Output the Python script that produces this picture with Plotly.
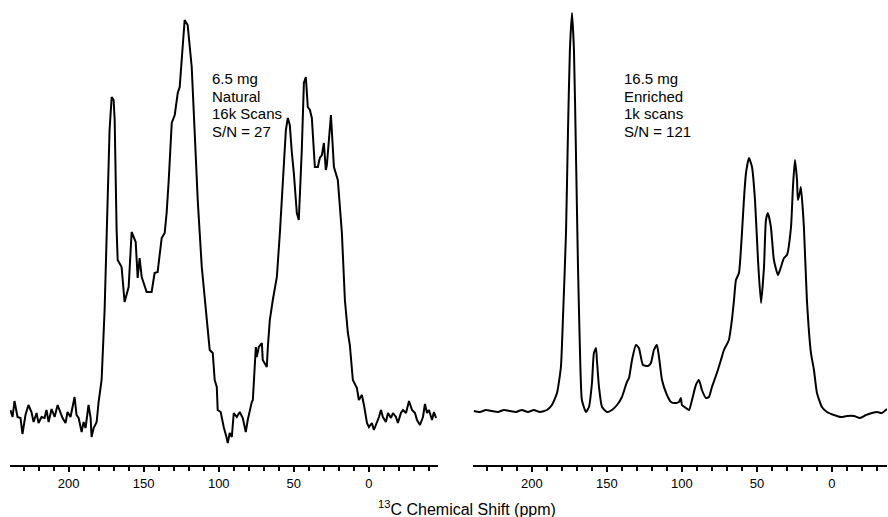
import plotly.graph_objects as go

# ---------- Data ----------
# Left spectrum: 6.5 mg, natural abundance
left_ppm = [238.7, 237.3, 236.0, 234.0, 232.0, 230.7, 228.7, 226.7, 224.7, 223.3,
            221.3, 220.0, 218.0, 216.0, 214.7, 213.3, 211.3, 209.3, 207.3, 205.3,
            204.0, 202.0, 200.7, 198.7, 197.3, 196.0, 194.7, 193.3, 191.3, 190.0,
            188.7, 187.3, 186.7, 185.3, 184.7, 183.3, 181.3, 180.0, 179.3, 178.0,
            176.0, 174.0, 172.7, 171.3, 170.0, 169.3, 168.7, 168.0, 167.3, 166.0,
            164.7, 162.7, 161.3, 160.0, 158.0, 156.7, 155.3, 154.0, 152.7, 151.3,
            148.0, 144.7, 142.7, 140.7, 138.0, 136.0, 134.7, 133.3, 131.3, 129.3,
            127.3, 126.0, 124.0, 122.7, 120.7, 119.3, 118.0, 116.0, 114.0, 111.3,
            109.3, 107.3, 106.0, 104.0, 102.7, 101.3, 100.7, 98.7, 96.7, 94.7,
            94.0, 92.7, 91.3, 90.0, 88.0, 86.0, 84.0, 82.0, 80.7, 78.0,
            77.3, 75.3, 74.7, 73.3, 71.3, 70.7, 68.0, 67.3, 66.0, 64.0,
            61.3, 59.3, 57.3, 55.3, 54.0, 52.7, 51.3, 50.0, 48.0, 46.7,
            44.7, 43.3, 42.0, 40.7, 39.3, 38.0, 36.0, 34.0, 32.7, 31.3,
            30.0, 28.7, 28.0, 25.3, 23.3, 22.0, 20.7, 18.0, 16.0, 14.0,
            12.7, 10.7, 9.3, 8.0, 6.7, 4.7, 3.3, 1.3, 0.0, -2.0,
            -3.3, -5.3, -6.7, -8.0, -9.3, -11.3, -12.7, -14.7, -16.0, -18.0,
            -19.3, -21.3, -22.7, -24.7, -26.7, -28.7, -30.7, -32.0, -34.0, -36.0,
            -37.3, -38.7, -40.0, -42.0, -43.3, -44.7]
left_int = [5, -2, 14, -2, -3, -19, 0, 10, 3, -7,
            2, -8, -2, -3, 5, -7, 6, -2, 10, 2,
            -3, -8, 3, -2, 7, 18, 0, -3, -17, -7,
            -13, 2, 10, -3, -22, -13, -7, 13, 20, 35,
            105, 232, 285, 318, 315, 295, 235, 185, 155, 152,
            148, 113, 120, 128, 183, 179, 173, 137, 157, 138,
            123, 123, 142, 143, 177, 182, 202, 235, 292, 300,
            322, 328, 375, 395, 390, 370, 348, 282, 215, 148,
            115, 82, 65, 62, 35, 28, 5, 3, -12, -23,
            -28, -18, -22, 2, -2, 3, -3, -17, -5, 13,
            15, 68, 58, 68, 72, 55, 48, 68, 95, 115,
            138, 182, 228, 285, 297, 290, 262, 242, 202, 195,
            265, 332, 338, 308, 305, 297, 248, 248, 257, 260,
            272, 245, 250, 300, 248, 240, 235, 182, 115, 82,
            70, 35, 30, 27, 15, 20, 10, -8, -12, -8,
            -15, -8, -2, 5, -2, -7, 2, -3, 2, -2,
            -8, 2, 5, 2, 14, 5, 2, -5, -10, -2,
            11, 2, 5, -5, 3, -3]

# Right spectrum: 16.5 mg, 13C enriched
right_ppm = [238.7, 234.7, 230.7, 226.7, 222.7, 218.7, 214.7, 210.7, 206.7, 202.7,
             198.7, 194.7, 190.0, 186.7, 183.3, 180.7, 179.3, 177.3, 176.0, 174.7,
             173.3, 172.0, 170.7, 169.3, 168.0, 166.7, 164.0, 162.0, 160.0, 158.7,
             157.3, 156.7, 155.3, 153.3, 150.0, 146.7, 143.3, 140.0, 136.7, 135.3,
             133.3, 130.7, 128.7, 126.0, 122.7, 120.7, 118.7, 116.7, 115.3, 113.3,
             110.0, 107.3, 104.0, 102.0, 100.7, 100.0, 97.3, 95.3, 93.3, 90.7,
             88.7, 86.7, 84.0, 82.0, 80.0, 76.7, 74.0, 72.0, 68.7, 66.7,
             65.3, 64.0, 62.0, 60.0, 58.7, 57.3, 55.3, 53.3, 51.3, 49.3,
             47.3, 45.3, 44.0, 42.7, 40.7, 38.7, 36.0, 34.0, 32.0, 30.0,
             27.3, 26.0, 24.7, 23.3, 22.7, 21.3, 20.7, 18.7, 16.7, 14.0,
             12.0, 10.0, 6.7, 3.3, -1.3, -6.0, -10.0, -14.7, -18.7, -22.7,
             -26.7, -30.0, -33.3, -36.7]
right_int = [0, -1, 1, 0, -1, 1, 0, -1, 1, -1,
             1, -1, 1, 6, 18, 44, 94, 178, 278, 361,
             398, 361, 261, 144, 61, 11, -1, 4, 28, 58,
             63, 51, 24, 4, -1, 1, 6, 14, 29, 33,
             51, 66, 63, 46, 45, 48, 61, 66, 54, 31,
             16, 9, 8, 9, 13, 6, 3, 1, 11, 26,
             31, 21, 13, 14, 24, 38, 51, 61, 71, 91,
             111, 131, 138, 178, 211, 238, 253, 244, 211, 151,
             108, 144, 191, 198, 184, 151, 136, 144, 153, 156,
             184, 224, 251, 231, 211, 219, 224, 184, 111, 58,
             41, 18, 4, -1, -4, -6, -5, -5, -7, -4,
             -2, -1, -2, 2]

tick_vals = [200, 150, 100, 50, 0]
tick_text = ["200", "150", "100", "50", "0"]

left_label = ["6.5 mg", "Natural", "16k Scans", "S/N = 27"]
right_label = ["16.5 mg", "Enriched", "1k scans", "S/N = 121"]
x_title = "<sup>13</sup>C Chemical Shift (ppm)"

# ---------- Figure ----------
W, H = 888, 517
fig = go.Figure()
fig.add_trace(go.Scatter(x=left_ppm, y=left_int, mode="lines",
                         line=dict(color="black", width=2), xaxis="x", yaxis="y",
                         showlegend=False, hoverinfo="skip"))
fig.add_trace(go.Scatter(x=right_ppm, y=right_int, mode="lines",
                         line=dict(color="black", width=2, shape="spline", smoothing=0.5),
                         xaxis="x2", yaxis="y2", showlegend=False, hoverinfo="skip"))

ydom = [(H - 465) / H, 1 - 5 / H]
axis_common = dict(
    tickmode="array", tickvals=tick_vals, ticktext=tick_text,
    ticks="outside", ticklen=5, tickwidth=1.5, tickcolor="black",
    showline=True, linecolor="black", linewidth=2,
    showgrid=False, zeroline=False,
    tickfont=dict(family="Liberation Sans, Arial, sans-serif", size=13, color="black"),
    minor=dict(dtick=10, tick0=0, ticks="outside", ticklen=4, tickwidth=1.5,
               tickcolor="black", showgrid=False),
    automargin=False, fixedrange=True,
)
fig.update_layout(
    width=W, height=H,
    margin=dict(l=0, r=0, t=0, b=0),
    paper_bgcolor="white", plot_bgcolor="white",
    xaxis=dict(domain=[10 / W, 437.7 / W], range=[239, -45.8], anchor="y", **axis_common),
    xaxis2=dict(domain=[473 / W, 887 / W], range=[239.3, -36.7], anchor="y2", **axis_common),
    yaxis=dict(domain=ydom, range=[-50, 410], visible=False, fixedrange=True),
    yaxis2=dict(domain=ydom, range=[-54, 406], visible=False, fixedrange=True),
)

font_txt = dict(family="Liberation Sans, Arial, sans-serif", size=15, color="black")
line_y = [78, 96, 113.5, 131]
for txt, yy in zip(left_label, line_y):
    fig.add_annotation(text=txt, xref="paper", yref="paper", x=210 / W, y=1 - yy / H,
                       xanchor="left", yanchor="middle", showarrow=False, font=font_txt)
for txt, yy in zip(right_label, line_y):
    fig.add_annotation(text=txt, xref="paper", yref="paper", x=622 / W, y=1 - yy / H,
                       xanchor="left", yanchor="middle", showarrow=False, font=font_txt)

fig.add_annotation(text=x_title, xref="paper", yref="paper", x=467 / W, y=1 - 508 / H,
                   xanchor="center", yanchor="middle", showarrow=False,
                   font=dict(family="Liberation Sans, Arial, sans-serif", size=16, color="black"))

fig.write_html("out.html",
               config={"displayModeBar": False},
               post_script="document.body.style.margin='0';document.body.style.overflow='hidden';")
